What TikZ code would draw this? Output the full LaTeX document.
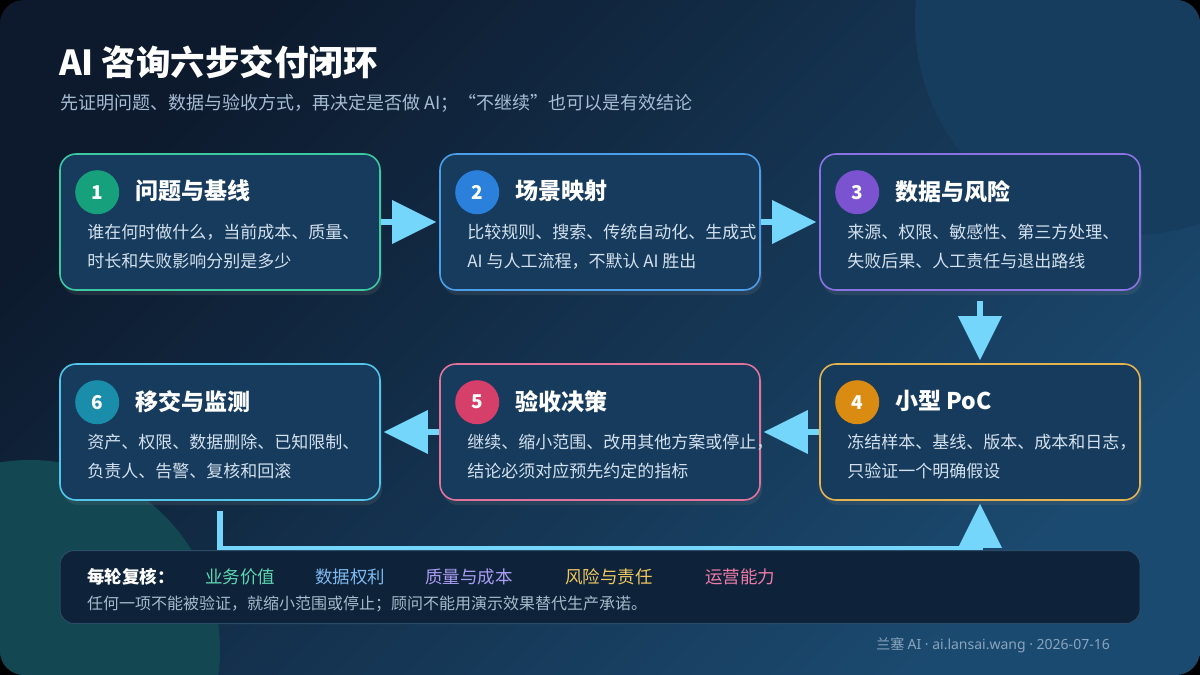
\documentclass[tikz,border=0pt]{standalone}
\usepackage{fontspec}
\setmainfont{Noto Sans CJK SC}
\newfontfamily\latinfont{Noto Sans}
\usetikzlibrary{arrows.meta,calc,shadows}
\definecolor{bgA}{HTML}{0D1A2D}
\definecolor{bgB}{HTML}{1B4A70}
\definecolor{decoA}{HTML}{163C5E}
\definecolor{decoB}{HTML}{134752}
\definecolor{cardfill}{HTML}{173B5D}
\definecolor{cA}{HTML}{3CC9A2}
\definecolor{cB}{HTML}{4B9EEA}
\definecolor{cC}{HTML}{8B72E2}
\definecolor{cD}{HTML}{E4B24E}
\definecolor{cE}{HTML}{E0729C}
\definecolor{cF}{HTML}{52C6EA}
\definecolor{nA}{HTML}{16A07C}
\definecolor{nB}{HTML}{2A80DA}
\definecolor{nC}{HTML}{7B52D0}
\definecolor{nD}{HTML}{DA8C12}
\definecolor{nE}{HTML}{D63F6A}
\definecolor{nF}{HTML}{1A8DAA}
\definecolor{arrowc}{HTML}{74D6FA}
\definecolor{bodyc}{HTML}{D3E1EE}
\definecolor{subc}{HTML}{A6BDD3}
\definecolor{panelfill}{HTML}{0E2339}
\definecolor{panelline}{HTML}{2A4C68}
\definecolor{kA}{HTML}{5ED8B2}
\definecolor{kB}{HTML}{7DB9F0}
\definecolor{kC}{HTML}{A99CF2}
\definecolor{kD}{HTML}{F0C862}
\definecolor{kE}{HTML}{F07CA8}
\definecolor{notec}{HTML}{A6BACB}
\definecolor{footc}{HTML}{8AA5BE}
\tikzset{
  card/.style={rounded corners=16pt, minimum width=320pt, minimum height=136pt,
    line width=1.6pt, fill=cardfill, inner sep=0pt,
    drop shadow={shadow xshift=2pt, shadow yshift=-5pt, opacity=0.18}},
  badge/.style={circle, minimum size=44pt, inner sep=0pt, text=white,
    font=\fontsize{19}{19}\selectfont\bfseries},
  head/.style={anchor=west, inner sep=0pt, text=white,
    font=\fontsize{23}{23}\selectfont\bfseries},
  body/.style={anchor=west, inner sep=0pt, text=bodyc,
    font=\fontsize{17}{17}\selectfont},
  flow/.style={draw=arrowc, line width=6pt,
    -{Triangle[length=44pt,width=44pt,line width=0pt]}},
  key/.style={anchor=west, inner sep=0pt, font=\fontsize{17.5}{17.5}\selectfont},
}
\begin{document}
\begin{tikzpicture}[x=1pt,y=-1pt]
\useasboundingbox (0,0) rectangle (1200,675);
\fill[black] (0,0) rectangle (1200,675);
\begin{scope}
  \clip[rounded corners=24pt] (0,0) rectangle (1200,675);
  \shade[top color=bgA, bottom color=bgB, shading angle=45] (0,0) rectangle (1200,675);
  \fill[decoA] (1130,20) circle (215);
  \fill[decoB] (30,650) circle (190);
\end{scope}

% title
\node[anchor=west, inner sep=0pt, text=white, font=\fontsize{34.5}{34.5}\selectfont\bfseries]
  (title) at (59,62) {AI 咨询六步交付闭环};
\node[anchor=west, inner sep=0pt, text=subc, font=\fontsize{18}{18}\selectfont]
  (sub) at (60,103) {先证明问题、数据与验收方式，再决定是否做 AI；“不继续”也可以是有效结论};

% cards
\node[card, draw=cA] (b1) at (220,222) {};
\node[card, draw=cB] (b2) at (600,222) {};
\node[card, draw=cC] (b3) at (980,222) {};
\node[card, draw=cD] (b4) at (980,432) {};
\node[card, draw=cE] (b5) at (600,432) {};
\node[card, draw=cF] (b6) at (220,432) {};

% card contents
\foreach \b/\n/\c/\h/\la/\lb in {
  b1/1/nA/问题与基线/谁在何时做什么，当前成本、质量、/时长和失败影响分别是多少,
  b2/2/nB/场景映射/比较规则、搜索、传统自动化、生成式/AI 与人工流程，不默认 AI 胜出,
  b3/3/nC/数据与风险/来源、权限、敏感性、第三方处理、/失败后果、人工责任与退出路线,
  b4/4/nD/小型 PoC/冻结样本、基线、版本、成本和日志，/只验证一个明确假设,
  b5/5/nE/验收决策/继续、缩小范围、改用其他方案或停止，/结论必须对应预先约定的指标,
  b6/6/nF/移交与监测/资产、权限、数据删除、已知限制、/负责人、告警、复核和回滚}{
  \node[badge, fill=\c] (\b n) at ($(\b.north west)+(38,39)$) {\n};
  \node[head] (\b h) at ($(\b.north west)+(76,38)$) {\h};
  \node[body] (\b l1) at ($(\b.north west)+(28,79)$) {\la};
  \node[body] (\b l2) at ($(\b.north west)+(28,108)$) {\lb};
}

% flow arrows
\draw[flow] (b1.east) -- ([xshift=-3pt]b2.west);
\draw[flow] (b2.east) -- ([xshift=-3pt]b3.west);
\draw[flow] ([yshift=-10pt]b3.south) -- ([yshift=3pt]b4.north);
\draw[flow] (b4.west) -- ([xshift=3pt]b5.east);
\draw[flow] (b5.west) -- ([xshift=3pt]b6.east);
\coordinate (loopy) at (0,549);
\draw[flow] ([yshift=-10pt]b6.south) |- (b4.south |- loopy) -- ([yshift=-3pt]b4.south);

% review panel
\node[rounded corners=14pt, minimum width=1080pt, minimum height=73pt, inner sep=0pt,
  fill=panelfill, draw=panelline, line width=1pt] (pnl) at (600,587) {};
\node[key, text=white, font=\fontsize{17.5}{17.5}\selectfont\bfseries] (k0) at (87,577) {每轮复核：};
\node[key, text=kA] (k1) at (205,577) {业务价值};
\node[key, text=kB] (k2) at (315,577) {数据权利};
\node[key, text=kC] (k3) at (425,577) {质量与成本};
\node[key, text=kD] (k4) at (565,577) {风险与责任};
\node[key, text=kE] (k5) at (705,577) {运营能力};
\node[anchor=west, inner sep=0pt, text=notec, font=\fontsize{16}{16}\selectfont]
  (note) at (87,604) {任何一项不能被验证，就缩小范围或停止；顾问不能用演示效果替代生产承诺。};

% footer
\node[anchor=east, inner sep=0pt, text=footc, font=\fontsize{14}{14}\selectfont]
  (foot) at (1110,645) {兰塞 {\latinfont AI · ai.lansai.wang · 2026-07-16}};
\end{tikzpicture}
\end{document}
